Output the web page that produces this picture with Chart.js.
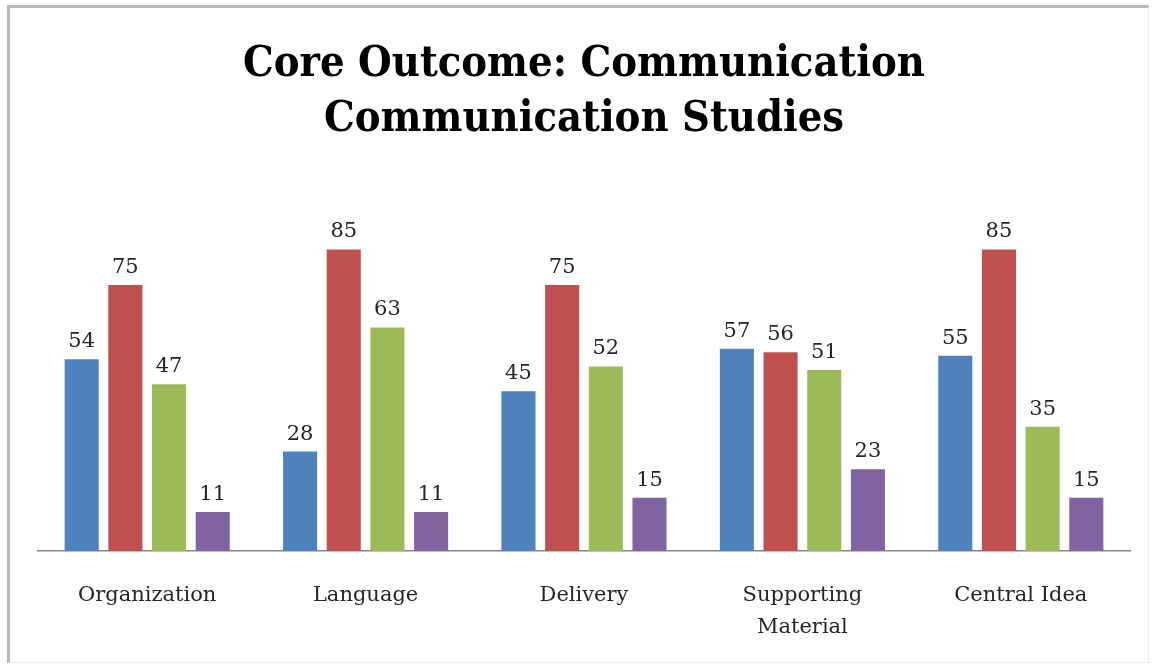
<!DOCTYPE html>
<html>
<head>
<meta charset="utf-8">
<script src="https://cdn.jsdelivr.net/npm/chart.js@4"></script>
<style>
  html, body { margin: 0; padding: 0; background: #fff; overflow: hidden; }
  .frame {
    position: absolute; left: 7px; top: 5px; width: 1138px; height: 654px;
    border-left: 3px solid #b8b8b8; border-top: 3px solid #b8b8b8;
    border-right: 1px solid #ececec; border-bottom: 1px solid #ececec;
  }
  .wrap { position: absolute; left: 0; top: 0; width: 1153px; height: 692px; }
</style>
</head>
<body>
<div class="frame"></div>
<div class="wrap"><canvas class="chart-js"></canvas></div>
<script>
const categories = ['Organization', 'Language', 'Delivery', ['Supporting', 'Material'], 'Central Idea'];
const series1 = [54, 28, 45, 57, 55];
const series2 = [75, 85, 75, 56, 85];
const series3 = [47, 63, 52, 51, 35];
const series4 = [11, 11, 15, 23, 15];
const COLORS = ['#4F81BD', '#C0504D', '#9BBB59', '#8064A2'];
const LABEL_FONT = "'DejaVu Serif', serif";

// numbers drawn above each bar
const valueLabels = {
  id: 'valueLabels',
  afterDatasetsDraw(chart) {
    const ctx = chart.ctx;
    ctx.save();
    ctx.font = '21px ' + LABEL_FONT;
    ctx.fillStyle = '#262626';
    ctx.textAlign = 'center';
    ctx.textBaseline = 'alphabetic';
    chart.data.datasets.forEach((ds, i) => {
      chart.getDatasetMeta(i).data.forEach((bar, j) => {
        ctx.fillText(ds.data[j], bar.x, bar.y - 12);
      });
    });
    ctx.restore();
  }
};

const canvas = document.querySelector('.chart-js').getContext('2d');
new Chart(canvas, {
  type: 'bar',
  data: {
    labels: categories,
    datasets: [series1, series2, series3, series4].map((data, i) => ({
      label: 'Series ' + (i + 1),
      data: data,
      backgroundColor: COLORS[i],
      borderWidth: 0,
      categoryPercentage: 0.8,
      barPercentage: 0.78,
    })),
  },
  options: {
    responsive: true,
    maintainAspectRatio: false,
    animation: false,
    layout: { padding: { left: 38, right: 23, top: 38, bottom: 20 } },
    plugins: {
      legend: { display: false },
      tooltip: { enabled: false },
      title: {
        display: true,
        text: ['Core Outcome: Communication', 'Communication Studies'],
        color: '#000',
        font: { family: "'DejaVu Serif Condensed', 'DejaVu Serif', serif", size: 43, weight: 'bold', lineHeight: 1.27 },
        padding: { top: 0, bottom: 49 },
      },
    },
    scales: {
      x: {
        grid: { display: false, drawTicks: false },
        border: { display: true, color: '#868686', width: 1.5 },
        ticks: {
          color: '#262626',
          font: { family: LABEL_FONT, size: 21, lineHeight: 1.55 },
          padding: 28,
          maxRotation: 0,
        },
      },
      y: {
        display: false,
        min: 0,
        max: 100,
      },
    },
  },
  plugins: [valueLabels],
});
</script>
</body>
</html>
